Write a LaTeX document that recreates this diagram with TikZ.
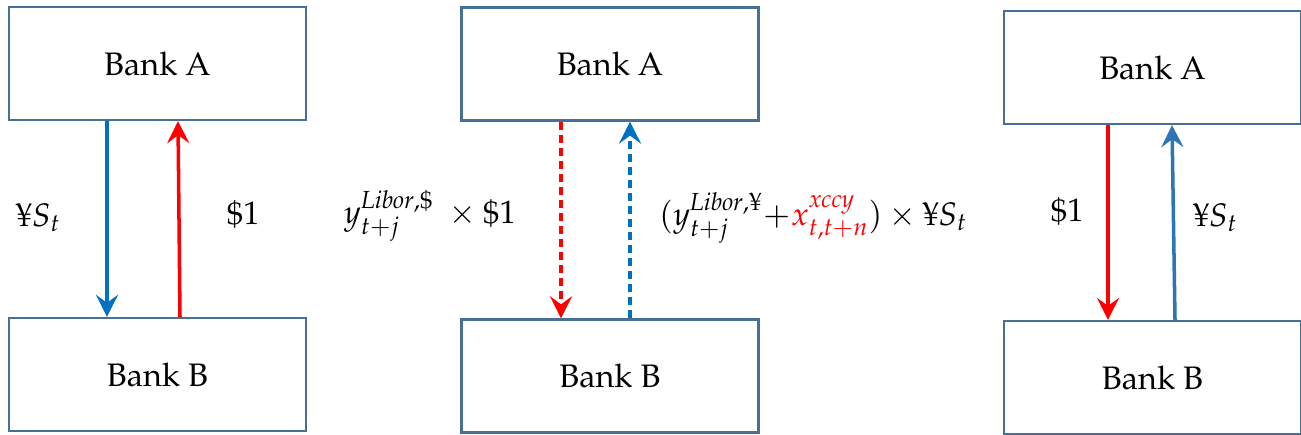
\documentclass[tikz,border=0pt]{standalone}
\usepackage[T1]{fontenc}
\usepackage{amsmath}
\usepackage{mathpazo}
\usepackage{tikz}
\usetikzlibrary{arrows.meta}

\definecolor{boxline}{RGB}{72,112,150}
\definecolor{yenblue}{RGB}{0,112,192}
\definecolor{yenpale}{RGB}{46,117,182}
\definecolor{usdred}{RGB}{255,0,0}
\newcommand{\yensign}{\text{\textyen}}

\begin{document}
\begin{tikzpicture}
  [
    x = 0.02cm, y = -0.02cm,  % one unit per pixel
    every node/.style = {font = \fontsize{18.5}{22}\selectfont},
    bank/.style = {draw = boxline, line width = 1.3pt, inner sep = 0pt,
                   minimum width = 5.94cm, minimum height = 2.26cm},
    flow/.style = {line width = 2pt,
                   -{Stealth[length = 4.4mm, width = 4.4mm, inset = 1.6mm]}},
    later/.style = {flow, dash pattern = on 4.8pt off 2.6pt}
  ]
  \useasboundingbox (0,0) rectangle (1301,435);

  % exchange at start
  \node[bank] (LA) at (157.5,63.5) {Bank A};
  \node[bank] (LB) at (157.5,374.5) {Bank B};
  % coupons
  \node[bank] (MA) at (610,64) {Bank A};
  \node[bank] (MB) at (610,376) {Bank B};
  % exchange at maturity
  \node[bank] (RA) at (1152.5,67.5) {Bank A};
  \node[bank] (RB) at (1152.5,377.5) {Bank B};

  \draw[flow, yenblue] (107,0 |- LA.south) -- (107,0 |- LB.north);
  \draw[flow, usdred] (180,0 |- LB.north) -- (178,0 |- LA.south);
  \draw[later, usdred] (561,0 |- MA.south) -- (561,0 |- MB.north);
  \draw[later, yenblue] (630,0 |- MB.north) -- (630,0 |- MA.south);
  \draw[flow, usdred] (1108,0 |- RA.south) -- (1108,0 |- RB.north);
  \draw[flow, yenpale] (1175,0 |- RB.north) -- (1172,0 |- RA.south);

  \begin{scope}[nodes = {inner sep = 0pt}]
    \node (LYen) at (38,218) {$\yensign S_t$};
    \node (LUsd) at (243,215) {$\$1$};
    \node (MUsd) at (430,216) {$y^{\mathit{Libor},\$}_{t+j}\;\times\$1$};
    \node (MYen) at (813,218)
      {$(y^{\mathit{Libor},\yensign}_{t+j}\!+\!\textcolor{usdred}{x^{\mathit{xccy}}_{t,t+n}})\times\yensign S_t$};
    \node (RUsd) at (1067,212) {$\$1$};
    \node (RYen) at (1215,218) {$\yensign S_t$};
  \end{scope}
\end{tikzpicture}
\end{document}
